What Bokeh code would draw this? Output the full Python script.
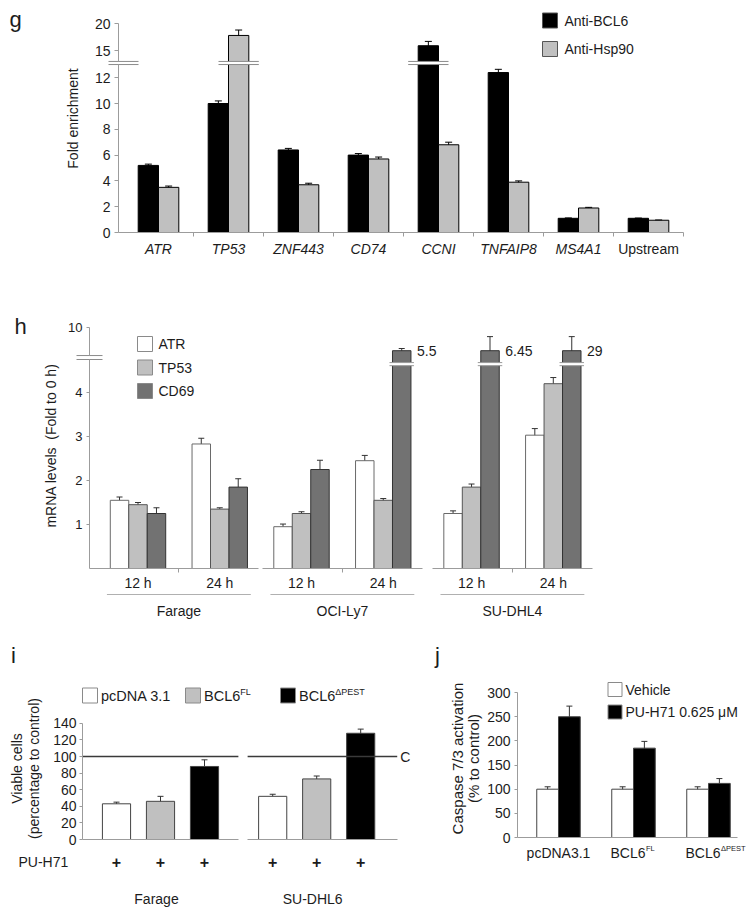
import math
from bokeh.plotting import figure
from bokeh.models import Range1d, LinearAxis, FixedTicker, ColumnDataSource, Whisker, TeeHead
from bokeh.layouts import column, row
from bokeh.embed import file_html
from bokeh.resources import INLINE
from bokeh.core.properties import value

FONT_NAME = "Liberation Sans"
FONT = value(FONT_NAME)
TXT = "#1c1c1c"
AX = "#9c9c9c"

# ---------------- data: panel g ----------------
g_genes = ["ATR", "TP53", "ZNF443", "CD74", "CCNI", "TNFAIP8", "MS4A1", "Upstream"]
g_gene_style = ["italic", "italic", "italic", "italic", "italic", "italic", "italic", "normal"]
g_series = ["Anti-BCL6", "Anti-Hsp90"]
g_bcl6 = [5.2, 10.0, 6.4, 6.0, 15.9, 12.4, 1.1, 1.1]
g_bcl6_err = [0.1, 0.2, 0.12, 0.12, 0.8, 0.25, 0.03, 0.02]
g_hsp90 = [3.5, 17.8, 3.7, 5.7, 6.8, 3.9, 1.9, 0.95]
g_hsp90_err = [0.1, 1.0, 0.12, 0.15, 0.2, 0.1, 0.05, 0.02]
g_yticks_low = [0, 2, 4, 6, 8, 10, 12]
g_yticks_high = [15, 20]

# ---------------- data: panel h ----------------
h_cells = ["Farage", "OCI-Ly7", "SU-DHL4"]
h_times = ["12 h", "24 h"]
h_genes = ["ATR", "TP53", "CD69"]
h_atr = [1.55, 2.83, 0.95, 2.45, 1.25, 3.03]
h_atr_err = [0.075, 0.13, 0.06, 0.12, 0.06, 0.15]
h_tp53 = [1.45, 1.35, 1.25, 1.55, 1.85, 4.2]
h_tp53_err = [0.05, 0.03, 0.04, 0.04, 0.07, 0.14]
h_cd69 = [1.25, 1.85, 2.25, 5.5, 6.45, 29]
h_cd69_err = [0.13, 0.19, 0.21, 0.05, 0.32, 0.32]
h_yticks_low = [1, 2, 3, 4]
h_yticks_high = [10]

# ---------------- data: panel i ----------------
i_cells = ["Farage", "SU-DHL6"]
i_constructs = [("pcDNA 3.1", ""), ("BCL6", "FL"), ("BCL6", "\u0394PEST")]
i_farage = [43, 46, 88]
i_farage_err = [2, 6, 8]
i_sudhl6 = [52, 73, 128]
i_sudhl6_err = [2.5, 3.5, 5]
i_control = 100
i_yticks = [0, 20, 40, 60, 80, 100, 120, 140]

# ---------------- data: panel j ----------------
j_groups = [("pcDNA3.1", ""), ("BCL6", "FL"), ("BCL6", "\u0394PEST")]
j_series = ["Vehicle", "PU-H71 0.625 \u03bcM"]
j_vehicle = [100, 100, 100]
j_vehicle_err = [5, 5, 5]
j_puh71 = [250, 185, 112]
j_puh71_err = [22, 14, 10]
j_yticks = [0, 50, 100, 150, 200, 250, 300]


class Panel:
    def __init__(self, left, top, width, height, x0, sx, y0, sy):
        self.x0, self.sx, self.y0, self.sy = x0, sx, y0, sy
        self.p = figure(width=width, height=height, output_backend="svg", toolbar_location=None,
                        x_axis_type=None, y_axis_type=None,
                        x_range=Range1d((left - x0) / sx, (left + width - x0) / sx),
                        y_range=Range1d((y0 - (top + height)) / sy, (y0 - top) / sy),
                        min_border=0, min_border_left=0, min_border_right=0,
                        min_border_top=0, min_border_bottom=0,
                        outline_line_color=None, background_fill_color="white",
                        border_fill_color="white")

    def X(self, px):
        return (px - self.x0) / self.sx

    def Y(self, py):
        return (self.y0 - py) / self.sy

    def dx(self, n):
        return n / self.sx

    def dy(self, n):
        return n / self.sy

    def text(self, x, y, s, size, align="center", style="normal", angle=0.0, color=TXT):
        self.p.text(x=[x], y=[y], text=[s], text_font=FONT, text_font_size=f"{size}px",
                    text_align=align, text_baseline="middle", text_font_style=style,
                    angle=angle, text_color=color)

    def yaxis(self, loc, bounds, ticks, overrides=None, size=14, tick_out=4, standoff=4, color=AX):
        ax = LinearAxis(fixed_location=loc, bounds=bounds, ticker=FixedTicker(ticks=ticks),
                        axis_line_color=color, major_tick_line_color=color,
                        major_tick_out=tick_out, major_tick_in=0, minor_tick_line_color=None,
                        major_label_text_font=FONT_NAME, major_label_text_font_size=f"{size}px",
                        major_label_text_color=TXT, major_label_standoff=standoff)
        if overrides:
            ax.major_label_overrides = overrides
        self.p.add_layout(ax, "left")

    def xaxis(self, bounds, minor=(), color=AX, tick_out=4):
        ax = LinearAxis(fixed_location=0, bounds=bounds,
                        ticker=FixedTicker(ticks=[], minor_ticks=list(minor)),
                        axis_line_color=color, major_tick_line_color=None,
                        minor_tick_line_color=color if minor else None,
                        minor_tick_out=tick_out, minor_tick_in=0,
                        major_label_text_font_size="0px")
        self.p.add_layout(ax, "below")

    def whiskers(self, xs, lo, up, color="#222222", size=7):
        src = ColumnDataSource(dict(x=list(xs), lo=list(lo), up=list(up)))
        w = Whisker(source=src, base="x", lower="lo", upper="up", line_color=color, line_width=1,
                    upper_head=TeeHead(size=size, line_color=color, line_width=1),
                    lower_head=TeeHead(size=size, line_color=color, line_width=1))
        self.p.add_layout(w)

    def brk(self, x_left, x_right, y_lo, y_hi, color="#8c8c8c"):
        self.p.quad(left=[x_left], right=[x_right], bottom=[y_lo], top=[y_hi],
                    fill_color="white", line_color=None)
        self.p.segment(x0=[x_left, x_left], y0=[y_lo, y_hi], x1=[x_right, x_right], y1=[y_lo, y_hi],
                       line_color=color, line_width=1)


# =============== panel g ===============
G = Panel(left=0, top=0, width=747, height=258, x0=158, sx=70, y0=232, sy=12.9)
gp = G.p
G_BREAK_V = 13.0
G_BREAK_LO, G_BREAK_HI = 13.02, 13.26


def g_disp(v):
    return v if v <= G_BREAK_V else G_BREAK_HI + 0.42 * (v - G_BREAK_V)


g_x = list(range(len(g_genes)))
g_w = 0.29
g_off = 0.145
g_colors = ["black", "#c0c0c0"]
for k, (vals, errs) in enumerate([(g_bcl6, g_bcl6_err), (g_hsp90, g_hsp90_err)]):
    xs = [x + (-g_off if k == 0 else g_off) for x in g_x]
    gp.vbar(x=xs, width=g_w, top=[g_disp(v) for v in vals], bottom=0,
            fill_color=g_colors[k], line_color="black", line_width=1)
    for x, v in zip(xs, vals):
        if v > G_BREAK_V:
            G.brk(x - g_w / 2 - G.dx(10), x + g_w / 2 + G.dx(10), G_BREAK_LO, G_BREAK_HI)
    G.whiskers(xs, [g_disp(v - e) for v, e in zip(vals, errs)],
               [g_disp(v + e) for v, e in zip(vals, errs)], color="black", size=7)

g_axis_x = G.X(118)
G.yaxis(g_axis_x, (0, G_BREAK_LO), g_yticks_low)
hi_ticks = [round(g_disp(t), 4) for t in g_yticks_high]
G.yaxis(g_axis_x, (G_BREAK_HI, hi_ticks[-1]), hi_ticks,
        overrides={d: str(t) for d, t in zip(hi_ticks, g_yticks_high)})
G.brk(g_axis_x - G.dx(10), g_axis_x + G.dx(20), G_BREAK_LO, G_BREAK_HI)
G.xaxis((g_axis_x, len(g_genes) - 0.5), minor=[x + 0.5 for x in g_x])

gp.text(x=g_x, y=[G.Y(248)] * len(g_x), text=g_genes, text_font=FONT, text_font_size="14px",
        text_align="center", text_baseline="middle", text_font_style=g_gene_style, text_color=TXT)
G.text(G.X(72), G.Y(118), "Fold enrichment", 14, angle=math.pi / 2)
G.text(G.X(15), G.Y(19), "g", 22)
for k, name in enumerate(g_series):
    yy = G.Y(20 + 28.5 * k)
    gp.scatter(x=[G.X(549.5)], y=[yy], marker="square", size=15,
               fill_color=g_colors[k], line_color="#555555")
    G.text(G.X(564), yy, name, 14, align="left")

# =============== panel h ===============
H = Panel(left=0, top=258, width=747, height=367, x0=137.5, sx=81.75, y0=568, sy=44)
hp = H.p
h_cell_shift = [0.0, 0.0, 0.08]
H_CLIP = 4.75
H_TOP = 4.95


def h_axis_disp(v):
    return v if v <= H_CLIP else 4.84 + (v - 5) * 0.128


h_pos = [2 * c + t + h_cell_shift[c] for c in range(len(h_cells)) for t in range(len(h_times))]
h_cc = [2 * c + 0.5 + h_cell_shift[c] for c in range(len(h_cells))]
h_w = 0.226
h_fill = ["white", "#c0c0c0", "#727272"]
h_line = ["#6a6a6a", "#555555", "#333333"]
for k, (vals, errs) in enumerate([(h_atr, h_atr_err), (h_tp53, h_tp53_err), (h_cd69, h_cd69_err)]):
    xs = [x + (k - 1) * h_w for x in h_pos]
    tops = [v if v <= H_CLIP else H_TOP for v in vals]
    hp.vbar(x=xs, width=h_w, top=tops, bottom=0, fill_color=h_fill[k], line_color=h_line[k], line_width=1)
    for x, v in zip(xs, vals):
        if v > H_CLIP:
            H.brk(x - h_w / 2 - H.dx(3), x + h_w / 2 + H.dx(3), 4.61, 4.68, color="#9a9a9a")
            H.text(x + h_w / 2 + H.dx(6), H_TOP, f"{v:g}", 14, align="left")
    H.whiskers(xs, [t - e for t, e in zip(tops, errs)], [t + e for t, e in zip(tops, errs)],
               color="#333333", size=6)

h_axis_x = H.X(89)
H.yaxis(h_axis_x, (0, H_CLIP), h_yticks_low, size=13, tick_out=3)
hh = [round(h_axis_disp(t), 4) for t in h_yticks_high]
H.yaxis(h_axis_x, (4.84, hh[-1]), hh, overrides={d: str(t) for d, t in zip(hh, h_yticks_high)},
        size=13, tick_out=3)
H.brk(H.X(76), H.X(102), H_CLIP, 4.84)
for c, cc in enumerate(h_cc):
    lo = h_axis_x if c == 0 else cc - 0.98
    H.xaxis((lo, cc + 0.98), minor=[cc])
    hp.segment(x0=[cc - 0.88], y0=[H.Y(594)], x1=[cc + 0.88], y1=[H.Y(594)], line_color="#b0b0b0", line_width=1)
    H.text(cc, H.Y(610), h_cells[c], 14)
for j, x in enumerate(h_pos):
    H.text(x, H.Y(582), h_times[j % 2], 14)
for k, name in enumerate(h_genes):
    yy = H.Y(343.5 + 23.5 * k)
    hp.scatter(x=[H.X(144.5)], y=[yy], marker="square", size=15, fill_color=h_fill[k], line_color="#8a8a8a")
    H.text(H.X(158), yy, name, 14, align="left")
H.text(H.X(50), H.Y(445), "mRNA levels \u00a0(Fold to 0 h)", 14, angle=math.pi / 2)
H.text(H.X(20), H.Y(326), "h", 22)

# =============== panel i ===============
I = Panel(left=0, top=625, width=425, height=287, x0=116, sx=44, y0=839, sy=0.83)
ip = I.p
i_stride = 3.55
i_w = 0.64
i_fill = ["white", "#c0c0c0", "black"]
i_cc = [1 + c * i_stride for c in range(len(i_cells))]
i_axis_x = I.X(82)
i_span = [(i_axis_x, i_cc[0] + 1.77), (i_cc[1] - 1.57, i_cc[1] + 1.83)]
for c, (vals, errs) in enumerate([(i_farage, i_farage_err), (i_sudhl6, i_sudhl6_err)]):
    xs = [b + c * i_stride for b in range(len(vals))]
    ip.vbar(x=xs, width=i_w, top=vals, bottom=0, fill_color=i_fill, line_color="#444444", line_width=1)
    I.whiskers(xs, [v - e for v, e in zip(vals, errs)], [v + e for v, e in zip(vals, errs)],
               color="#333333", size=6)
    I.xaxis(i_span[c])
    ip.segment(x0=[i_span[c][0]], y0=[i_control], x1=[i_span[c][1]], y1=[i_control],
               line_color="#3a3a3a", line_width=1.5)
    for x in xs:
        I.text(x, I.Y(861), "+", 16, style="bold")
    I.text(i_cc[c] - I.dx(4), I.Y(898), i_cells[c], 14)
I.yaxis(i_axis_x, (0, i_yticks[-1]), i_yticks, size=14, tick_out=3, standoff=3)
I.text(i_span[1][1] + I.dx(3), i_control, "C", 14, align="left")
I.text(I.X(18), I.Y(861), "PU-H71", 14, align="left")
leg_x = [89.5, 192.5, 287.5]
for k, (base, sup) in enumerate(i_constructs):
    ip.scatter(x=[I.X(leg_x[k])], y=[I.Y(695)], marker="square", size=15,
               fill_color=i_fill[k], line_color="#8a8a8a")
    tx = I.X(leg_x[k] + 11)
    I.text(tx, I.Y(695), base, 14.5, align="left")
    if sup:
        I.text(tx + I.dx(2.501 * 14.5), I.Y(691), sup, 9, align="left")
I.text(I.X(16), I.Y(768), "Viable cells", 14, angle=math.pi / 2)
I.text(I.X(33), I.Y(768), "(percentage to control)", 14, angle=math.pi / 2)
I.text(I.X(13), I.Y(655), "i", 22)

# =============== panel j ===============
J = Panel(left=425, top=625, width=322, height=287, x0=558, sx=75, y0=837, sy=0.483)
jp = J.p
j_x = list(range(len(j_groups)))
j_w = 0.29
j_fill = ["white", "black"]
for k, (vals, errs) in enumerate([(j_vehicle, j_vehicle_err), (j_puh71, j_puh71_err)]):
    xs = [x + (-0.145 if k == 0 else 0.145) for x in j_x]
    jp.vbar(x=xs, width=j_w, top=vals, bottom=0, fill_color=j_fill[k], line_color="#444444", line_width=1)
    J.whiskers(xs, [v - e for v, e in zip(vals, errs)], [v + e for v, e in zip(vals, errs)],
               color="#333333", size=6)
j_axis_x = J.X(517)
J.yaxis(j_axis_x, (0, j_yticks[-1]), j_yticks, size=14, tick_out=3, standoff=4)
J.xaxis((j_axis_x, J.X(737)))
for x, (base, sup) in zip(j_x, j_groups):
    if sup:
        bx = x + J.dx(12)
        J.text(bx, J.Y(852), base, 14, align="right")
        J.text(bx + J.dx(0.5), J.Y(848), sup, 7.5, align="left")
    else:
        J.text(x, J.Y(852), base, 14)
for k, name in enumerate(j_series):
    yy = J.Y(689 + 22.5 * k)
    jp.scatter(x=[J.X(614.5)], y=[yy], marker="square", size=14, fill_color=j_fill[k], line_color="#8a8a8a")
    J.text(J.X(625), yy, name, 14, align="left")
J.text(J.X(457), J.Y(758), "Caspase 7/3 activation", 15, angle=math.pi / 2)
J.text(J.X(473), J.Y(758), "(% to control)", 15, angle=math.pi / 2)
J.text(J.X(437), J.Y(655), "j", 22)

layout = column(G.p, H.p, row(I.p, J.p))
open("out.html", "w").write(file_html(layout, INLINE))
